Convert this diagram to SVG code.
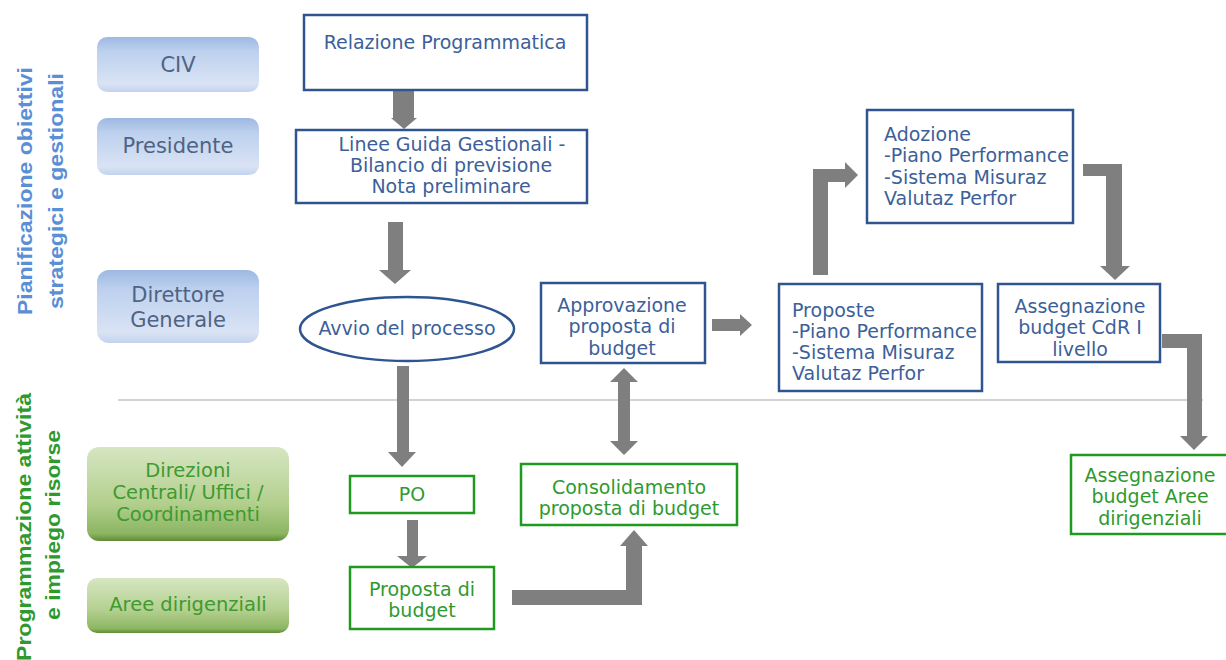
<svg xmlns="http://www.w3.org/2000/svg" width="1226" height="660" viewBox="0 0 1226 660">
<defs>
<linearGradient id="gb" x1="0" y1="0" x2="0" y2="1">
<stop offset="0" stop-color="#9db8e2"/><stop offset="0.25" stop-color="#bcd0ee"/><stop offset="0.85" stop-color="#d9e3f4"/><stop offset="1" stop-color="#c3d3ee"/>
</linearGradient>
<linearGradient id="gg" x1="0" y1="0" x2="0" y2="1">
<stop offset="0" stop-color="#d6e6c2"/><stop offset="0.6" stop-color="#b3cf8e"/><stop offset="0.92" stop-color="#8cb562"/><stop offset="1" stop-color="#5e8c36"/>
</linearGradient>
<style>
.lb{fill:url(#gb);stroke:none}
.lg{fill:url(#gg);stroke:none}
.tb{font-family:"DejaVu Sans",Verdana,sans-serif;font-size:21px;fill:#4f6384;text-anchor:middle}
.tg{font-family:"DejaVu Sans",Verdana,sans-serif;font-size:19.5px;fill:#3f9a2f;text-anchor:middle}
.nb{fill:#fff;stroke:#2f5590;stroke-width:2.5}
.ng{fill:#fff;stroke:#1f9a1f;stroke-width:2.5}
.t{font-family:"DejaVu Sans",Verdana,sans-serif;font-size:19px;fill:#3c5f9a}
.g{font-family:"DejaVu Sans",Verdana,sans-serif;font-size:19px;fill:#2f9a2f}
.m{text-anchor:middle}
.vb{font-family:"Liberation Sans",Arial,sans-serif;font-weight:bold;font-size:21px;fill:#5a8fd6;text-anchor:middle}
.vg{font-family:"Liberation Sans",Arial,sans-serif;font-weight:bold;font-size:21px;fill:#2e9a2e;text-anchor:middle}
.ar{fill:#7f7f7f;stroke:none}
</style>
</defs>
<rect width="1226" height="660" fill="#fff"/>

<g id="lane-labels">
<text class="vb" transform="translate(32,191) rotate(-90)" textLength="248" lengthAdjust="spacingAndGlyphs">Pianificazione obiettivi</text>
<text class="vb" transform="translate(63,191) rotate(-90)" textLength="236" lengthAdjust="spacingAndGlyphs">strategici e gestionali</text>
<text class="vg" transform="translate(31,527) rotate(-90)" textLength="268" lengthAdjust="spacingAndGlyphs">Programmazione attività</text>
<text class="vg" transform="translate(60,525) rotate(-90)" textLength="190" lengthAdjust="spacingAndGlyphs">e impiego risorse</text>
</g>

<line x1="118" y1="400" x2="1203" y2="400" stroke="#d3d3d3" stroke-width="2"/>

<g id="civ"><rect class="lb" x="97" y="37" width="162" height="55" rx="10"/><text class="tb" x="178" y="72">CIV</text></g>
<g id="presidente"><rect class="lb" x="97" y="118" width="162" height="57" rx="10"/><text class="tb" x="178" y="153">Presidente</text></g>
<g id="direttore"><rect class="lb" x="97" y="270" width="162" height="73" rx="12"/><text class="tb" x="178" y="302">Direttore</text><text class="tb" x="178" y="327">Generale</text></g>
<g id="direzioni"><rect class="lg" x="87" y="447" width="202" height="94" rx="12"/><text class="tg" x="188" y="477">Direzioni</text><text class="tg" x="188" y="499">Centrali/ Uffici /</text><text class="tg" x="188" y="521">Coordinamenti</text></g>
<g id="aree"><rect class="lg" x="87" y="578" width="202" height="55" rx="10"/><text class="tg" x="188" y="611">Aree dirigenziali</text></g>

<g id="connectors">
<path class="ar" d="M393,90 H414 V118 H417 L404,129 L391,118 H393 Z"/>
<path class="ar" d="M388,222 H403 V270 H411 L395,284 L379,270 H388 Z"/>
<path class="ar" d="M397,366 H409 V452 H416 L402,467 L388,452 H397 Z"/>
<path class="ar" d="M407,520 H418 V556 H427 L412,568 L397,556 H407 Z"/>
<path class="ar" d="M512,590 H626 V546 H620 L634,530 L648,546 H642 V605 H512 Z"/>
<path class="ar" d="M624,368 L638,382 H630 V441 H638 L624,455 L610,441 H618 V382 H610 Z"/>
<path class="ar" d="M712,319 H740 V314 L752,325 L740,336 V331 H712 Z"/>
<path class="ar" d="M813,275 V169 H845 V162 L858,175 L845,188 V182 H828 V275 Z"/>
<path class="ar" d="M1083,164 H1122 V266 H1130 L1115,280 L1100,266 H1106 V176 H1083 Z"/>
<path class="ar" d="M1162,334 H1202 V436 H1208 L1194,450 L1180,436 H1187 V348 H1162 Z"/>
</g>

<g id="relazione"><rect class="nb" x="304" y="15" width="283" height="75"/><text class="t m" x="445" y="49">Relazione Programmatica</text></g>
<g id="linee"><rect class="nb" x="296" y="130" width="291" height="73"/><text class="t m" x="452" y="151">Linee Guida Gestionali -</text><text class="t m" x="451" y="172">Bilancio di previsione</text><text class="t m" x="451" y="193">Nota preliminare</text></g>
<g id="avvio"><ellipse cx="407" cy="329" rx="107" ry="32" fill="#fff" stroke="#2f5590" stroke-width="2.5"/><text class="t m" x="407" y="335">Avvio del processo</text></g>
<g id="approvazione"><rect class="nb" x="541" y="283" width="164" height="80"/><text class="t m" x="622" y="312">Approvazione</text><text class="t m" x="622" y="333">proposta di</text><text class="t m" x="622" y="355">budget</text></g>
<g id="proposte"><rect class="nb" x="779" y="284" width="203" height="107"/><text class="t" x="792" y="317">Proposte</text><text class="t" x="792" y="338">-Piano Performance</text><text class="t" x="792" y="359">-Sistema Misuraz</text><text class="t" x="792" y="380">Valutaz Perfor</text></g>
<g id="adozione"><rect class="nb" x="867" y="110" width="206" height="113"/><text class="t" x="884" y="141">Adozione</text><text class="t" x="884" y="162">-Piano Performance</text><text class="t" x="884" y="184">-Sistema Misuraz</text><text class="t" x="884" y="205">Valutaz Perfor</text></g>
<g id="cdr"><rect class="nb" x="998" y="284" width="162" height="78"/><text class="t m" x="1080" y="313">Assegnazione</text><text class="t m" x="1080" y="334">budget CdR I</text><text class="t m" x="1080" y="356">livello</text></g>

<g id="po"><rect class="ng" x="350" y="476" width="124" height="37"/><text class="g m" x="412" y="501">PO</text></g>
<g id="proposta"><rect class="ng" x="350" y="567" width="144" height="62"/><text class="g m" x="422" y="596">Proposta di</text><text class="g m" x="422" y="617">budget</text></g>
<g id="consolidamento"><rect class="ng" x="521" y="464" width="216" height="61"/><text class="g m" x="629" y="494">Consolidamento</text><text class="g m" x="629" y="515">proposta di budget</text></g>
<g id="assegnazione-aree"><rect class="ng" x="1071" y="455" width="160" height="79"/><text class="g m" x="1150" y="482">Assegnazione</text><text class="g m" x="1150" y="503">budget Aree</text><text class="g m" x="1150" y="525">dirigenziali</text></g>
</svg>
